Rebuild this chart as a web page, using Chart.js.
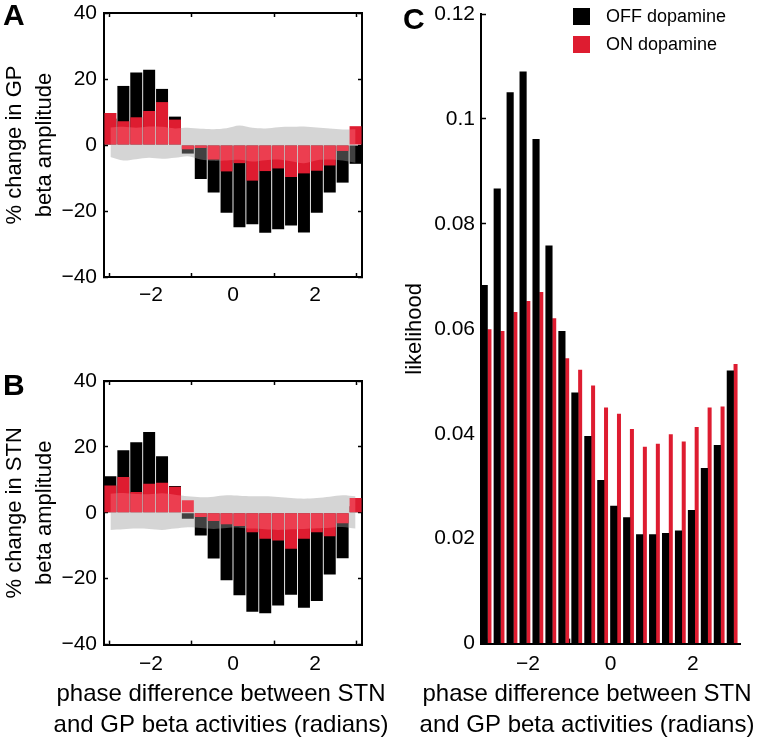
<!DOCTYPE html>
<html>
<head>
<meta charset="utf-8">
<script src="https://cdn.jsdelivr.net/npm/chart.js@4.4.1/dist/chart.umd.min.js"></script>
<style>
    html, body { margin: 0; padding: 0; background: #fff; overflow: hidden; }
    body { width: 760px; height: 741px; position: relative; font-family: 'Liberation Sans', Arial, sans-serif; }
    canvas { position: absolute; }
    .panel-letter { position: absolute; font-weight: bold; font-size: 30px; line-height: 30px; color: #000; }
    .legend { position: absolute; left: 573px; top: 2px; font-size: 18px; color: #000; }
    .legend-row { display: flex; align-items: center; height: 28px; }
    .legend-swatch { width: 17px; height: 17px; margin-right: 16px; }
</style>
</head>
<body>
<canvas id="chartA" width="380" height="340" style="left:0;top:0"></canvas>
<canvas id="chartB" width="442" height="381" style="left:0;top:360px"></canvas>
<canvas id="chartC" width="414" height="741" style="left:380px;top:0"></canvas>
<div class="panel-letter" style="left:3px;top:0">A</div>
<div class="panel-letter" style="left:3px;top:370px">B</div>
<div class="panel-letter" style="left:403px;top:4px">C</div>
<div class="legend" id="legendC"></div>

<script>
// Phase bins (radians) - centres of the 20 bins between -pi and pi
const binCentres = [-2.985, -2.670, -2.356, -2.042, -1.728, -1.414, -1.100, -0.785, -0.471, -0.157,
                    0.157, 0.471, 0.785, 1.100, 1.414, 1.728, 2.042, 2.356, 2.670, 2.985];
const xTicks = [-2, 0, 2];
const ampTicks = [-40, -20, 0, 20, 40];
const likeTicks = [0, 0.02, 0.04, 0.06, 0.08, 0.1, 0.12];

const seriesNames = ['OFF dopamine', 'ON dopamine'];
const phaseTitle = ['phase difference between STN', 'and GP beta activities (radians)'];

// A: % change in GP beta amplitude
const gpOff = [8.0, 17.9, 22.0, 22.8, 17.0, 8.6, -2.6, -10.3, -14.4, -20.5, -24.9, -24.0, -26.6, -25.5, -24.4, -26.5, -20.5, -14.4, -11.4, -5.7];
const gpOn = [9.7, 7.2, 8.4, 10.3, 13.0, 7.7, -1.3, -0.9, -4.4, -8.0, -5.5, -10.8, -7.9, -7.1, -9.7, -8.6, -7.8, -6.2, -1.8, 5.7];
const gpBandLow = [-3.6, -4.7, -4.3, -3.9, -4.2, -3.9, -3.4, -4.4, -4.8, -4.7, -4.5, -5.0, -4.6, -4.4, -4.9, -5.5, -4.6, -4.4, -4.7, -5.4];
const gpBandHigh = [5.3, 5.5, 5.2, 5.6, 5.5, 5.0, 5.2, 4.9, 4.8, 5.1, 5.9, 5.2, 5.0, 5.4, 5.5, 5.6, 5.3, 5.0, 4.7, 4.8];

// B: % change in STN beta amplitude
const stnOff = [11.1, 19.0, 21.4, 24.5, 17.2, 8.1, -1.8, -6.9, -13.9, -20.5, -25.0, -30.0, -30.5, -28.1, -24.9, -28.8, -26.8, -18.7, -13.8, 2.0];
const stnOn = [8.3, 10.9, 6.3, 8.8, 9.1, 7.9, 3.8, -1.3, -2.5, -3.5, -4.0, -5.9, -7.9, -8.4, -10.9, -7.9, -5.9, -7.1, -3.2, 4.5];
const stnBandLow = [-5.2, -5.0, -4.8, -4.9, -5.2, -4.8, -4.4, -4.6, -4.9, -4.6, -4.5, -4.8, -5.0, -5.2, -5.0, -4.9, -4.7, -4.5, -4.3, -4.8];
const stnBandHigh = [5.8, 6.0, 5.7, 5.6, 5.9, 5.5, 5.0, 4.7, 4.9, 5.3, 5.2, 5.0, 5.0, 4.8, 4.5, 4.3, 4.5, 4.9, 5.3, 5.0];

// C: likelihood of phase difference
const likeOff = [0.0683, 0.0867, 0.105, 0.109, 0.0961, 0.0758, 0.0595, 0.0478, 0.0395, 0.0311,
                 0.0262, 0.024, 0.0208, 0.0208, 0.021, 0.0215, 0.0254, 0.0334, 0.0378, 0.052];
const likeOn = [0.0599, 0.0596, 0.0632, 0.0653, 0.067, 0.062, 0.0544, 0.0522, 0.0492, 0.045,
                0.0438, 0.0409, 0.0375, 0.0381, 0.0399, 0.0385, 0.0413, 0.045, 0.0452, 0.0533];

const OFF_COLOR = '#000000';
const ON_COLOR = 'rgb(222, 28, 48)';
const BAND_COLOR = 'rgba(155, 155, 155, 0.42)';

Chart.defaults.font.family = "'Liberation Sans', Arial, sans-serif";
Chart.defaults.color = '#000';

function xy(values) {
    return values.map((v, i) => ({ x: binCentres[i], y: v }));
}

function fmtTick(v) {
    return v < 0 ? '\u2212' + Math.abs(v) : String(v);
}

// fixed axis box size, and no extra room reserved for the end labels
function fixSize(dim, size) {
    return s => {
        s[dim] = size;
        s.paddingTop = 0;
        s.paddingBottom = 0;
        s.paddingLeft = 0;
        s.paddingRight = 0;
    };
}

// grey band is blended with 'luminosity' so red under it turns light red and black turns dark grey
const luminosityBand = {
    id: 'luminosityBand',
    beforeDatasetDraw(chart, args) {
        if (chart.data.datasets[args.index].blendStart) chart.ctx.globalCompositeOperation = 'luminosity';
    },
    afterDatasetDraw(chart, args) {
        if (chart.data.datasets[args.index].blendEnd) chart.ctx.globalCompositeOperation = 'source-over';
    }
};

function boxAxis(position, min, max, ticks, sizeFn) {
    return {
        type: 'linear',
        position: position,
        min: min,
        max: max,
        offset: false,
        afterBuildTicks: s => { s.ticks = ticks.map(v => ({ value: v })); },
        afterFit: sizeFn,
        border: { display: true, color: '#000', width: 2 },
        grid: { drawOnChartArea: false, drawTicks: true, tickLength: -4, tickColor: '#000', tickWidth: 1.5 },
        ticks: { display: false }
    };
}

function bottomTitle(text) {
    return {
        display: !!text,
        position: 'bottom',
        text: text || '',
        color: '#000',
        font: { size: 24, weight: 'normal', lineHeight: 1.3 },
        padding: 0
    };
}

function makeAmplitudeChart(canvasId, offVals, onVals, bandLow, bandHigh, yTitle, xTitle, opts) {
    const ctx = document.getElementById(canvasId);
    return new Chart(ctx, {
        type: 'bar',
        data: {
            datasets: [
                {
                    label: seriesNames[0],
                    data: xy(offVals),
                    backgroundColor: OFF_COLOR,
                    borderWidth: 0,
                    barPercentage: 0.93,
                    categoryPercentage: 1,
                    grouped: false,
                    order: 4
                },
                {
                    label: seriesNames[1],
                    data: xy(onVals),
                    backgroundColor: ON_COLOR,
                    borderWidth: 0,
                    barPercentage: 0.93,
                    categoryPercentage: 1,
                    grouped: false,
                    order: 3
                },
                {
                    type: 'line',
                    label: 'band low',
                    data: xy(bandLow),
                    borderColor: 'rgba(0,0,0,0)',
                    borderWidth: 0,
                    pointRadius: 0,
                    tension: 0.3,
                    fill: false,
                    order: 2,
                    blendStart: true
                },
                {
                    type: 'line',
                    label: 'band high',
                    data: xy(bandHigh),
                    borderColor: 'rgba(0,0,0,0)',
                    backgroundColor: BAND_COLOR,
                    borderWidth: 0,
                    pointRadius: 0,
                    tension: 0.3,
                    fill: '-1',
                    order: 1,
                    blendEnd: true
                }
            ]
        },
        options: {
            responsive: false,
            animation: false,
            layout: { padding: { left: 0, right: 0, top: opts.top, bottom: 0 } },
            plugins: {
                legend: { display: false },
                tooltip: { enabled: false },
                title: bottomTitle(xTitle)
            },
            scales: {
                x: {
                    type: 'linear',
                    min: -Math.PI,
                    max: Math.PI,
                    offset: false,
                    afterBuildTicks: s => { s.ticks = xTicks.map(v => ({ value: v })); },
                    afterFit: fixSize('height', opts.xHeight),
                    border: { display: true, color: '#000', width: 2 },
                    grid: { drawOnChartArea: false, drawTicks: true, tickLength: -4, tickColor: '#000', tickWidth: 1.5 },
                    ticks: { padding: opts.xPad, font: { size: 21 }, callback: fmtTick, maxRotation: 0, autoSkip: false }
                },
                x2: boxAxis('top', -Math.PI, Math.PI, xTicks, fixSize('height', 0)),
                y: {
                    min: -40,
                    max: 40,
                    afterBuildTicks: s => { s.ticks = ampTicks.map(v => ({ value: v })); },
                    afterFit: fixSize('width', 104),
                    border: { display: true, color: '#000', width: 2 },
                    grid: { drawOnChartArea: false, drawTicks: true, tickLength: -4, tickColor: '#000', tickWidth: 1.5 },
                    ticks: { padding: 11, font: { size: 21 }, callback: fmtTick },
                    title: { display: true, text: yTitle, font: { size: 22, lineHeight: 1.36 }, padding: 0 }
                },
                y2: boxAxis('right', -40, 40, ampTicks, fixSize('width', opts.rightWidth))
            }
        },
        plugins: [luminosityBand]
    });
}

function makeLikelihoodChart(canvasId) {
    const ctx = document.getElementById(canvasId);
    return new Chart(ctx, {
        type: 'bar',
        data: {
            datasets: [
                {
                    label: seriesNames[0],
                    data: xy(likeOff),
                    backgroundColor: OFF_COLOR,
                    borderWidth: 0,
                    barPercentage: 1,
                    categoryPercentage: 1
                },
                {
                    label: seriesNames[1],
                    data: xy(likeOn),
                    backgroundColor: ON_COLOR,
                    borderWidth: 0,
                    barPercentage: 1,
                    categoryPercentage: 0.62
                }
            ]
        },
        options: {
            responsive: false,
            animation: false,
            layout: { padding: { left: 0, right: 0, top: 14, bottom: 0 } },
            plugins: {
                legend: { display: false },
                tooltip: { enabled: false },
                title: bottomTitle(phaseTitle)
            },
            scales: {
                x: {
                    type: 'linear',
                    min: -Math.PI,
                    max: Math.PI,
                    offset: false,
                    afterBuildTicks: s => { s.ticks = xTicks.map(v => ({ value: v })); },
                    afterFit: fixSize('height', 35),
                    border: { display: true, color: '#000', width: 2 },
                    grid: { drawOnChartArea: false, drawTicks: true, tickLength: -5, tickColor: '#000', tickWidth: 1.5 },
                    ticks: { padding: 13, font: { size: 21 }, callback: fmtTick, maxRotation: 0, autoSkip: false }
                },
                y: {
                    min: 0,
                    max: 0.12,
                    afterBuildTicks: s => { s.ticks = likeTicks.map(v => ({ value: v })); },
                    afterFit: fixSize('width', 101),
                    border: { display: true, color: '#000', width: 2 },
                    grid: { drawOnChartArea: false, drawTicks: true, tickLength: -5, tickColor: '#000', tickWidth: 1.5 },
                    ticks: { padding: 11, font: { size: 21 }, callback: v => String(v) },
                    title: { display: true, text: 'likelihood', font: { size: 22, lineHeight: 1.36 }, padding: { top: 20, bottom: 0 } }
                },
                // empty right-hand box: keeps room right of the plot without a border
                yRight: {
                    type: 'linear',
                    position: 'right',
                    min: 0,
                    max: 0.12,
                    afterFit: fixSize('width', 54),
                    border: { display: false },
                    grid: { display: false },
                    ticks: { display: false }
                }
            }
        }
    });
}

function buildLegend(containerId) {
    const el = document.getElementById(containerId);
    [OFF_COLOR, ON_COLOR].forEach((color, i) => {
        const row = document.createElement('div');
        row.className = 'legend-row';
        row.innerHTML = `<span class="legend-swatch" style="background:${color}"></span><span>${seriesNames[i]}</span>`;
        el.appendChild(row);
    });
}

makeAmplitudeChart('chartA', gpOff, gpOn, gpBandLow, gpBandHigh,
    ['% change in GP', 'beta amplitude'], null,
    { top: 13, xHeight: 63, xPad: 10, rightWidth: 18 });
makeAmplitudeChart('chartB', stnOff, stnOn, stnBandLow, stnBandHigh,
    ['% change in STN', 'beta amplitude'], phaseTitle,
    { top: 21, xHeight: 34, xPad: 11, rightWidth: 80 });
makeLikelihoodChart('chartC');
buildLegend('legendC');
</script>
</body>
</html>
